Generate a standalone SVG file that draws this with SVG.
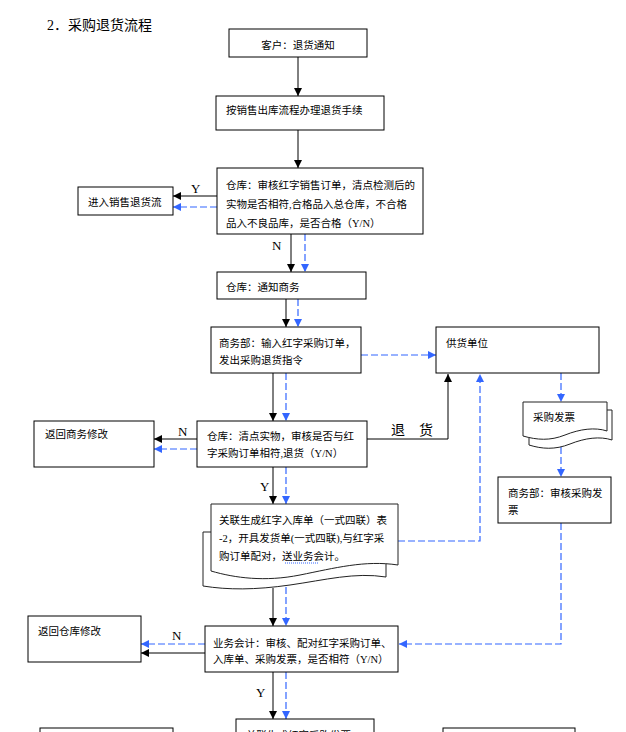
<svg xmlns="http://www.w3.org/2000/svg" width="626" height="732" viewBox="0 0 626 732">
<style>
.box{fill:#fff;stroke:#000;stroke-width:1}
.doc{fill:#fff;stroke:#222;stroke-width:1}
.t{font-family:"Liberation Serif","Noto Sans CJK SC",serif;font-size:10.5px;fill:#000}
.lbl{font-family:"Liberation Serif","Noto Sans CJK SC",serif;font-size:13px;fill:#000}
.k{fill:none;stroke:#000;stroke-width:1}
.b{fill:none;stroke:#3366ff;stroke-width:1.2;stroke-dasharray:7 3}
</style>
<defs>
<marker id="ak" markerUnits="userSpaceOnUse" markerWidth="8" markerHeight="8" refX="8" refY="4" orient="auto"><path d="M0,0 L8,4 L0,8 Z" fill="#000"/></marker>
<marker id="ab" markerUnits="userSpaceOnUse" markerWidth="8" markerHeight="8" refX="8" refY="4" orient="auto"><path d="M0,0 L8,4 L0,8 Z" fill="#3366ff"/></marker>
</defs>
<rect width="626" height="732" fill="#fff"/>
<text x="47" y="30" style="font-family:'Liberation Serif','Noto Sans CJK SC',serif;font-size:14px">2．采购退货流程</text>

<g id="connectors">
<path class="k" d="M298,57 V96" marker-end="url(#ak)"/>
<path class="k" d="M298,130 V168" marker-end="url(#ak)"/>
<path class="k" d="M217,196 H173" marker-end="url(#ak)"/>
<path class="b" d="M217,207 H173" marker-end="url(#ab)"/>
<path class="k" d="M291,234 V272" marker-end="url(#ak)"/>
<path class="b" d="M305,234 V272" marker-end="url(#ab)"/>
<path class="k" d="M286,299 V327" marker-end="url(#ak)"/>
<path class="b" d="M298,299 V327" marker-end="url(#ab)"/>
<path class="b" d="M361,355 H436" marker-end="url(#ab)"/>
<path class="k" d="M273,373 V421" marker-end="url(#ak)"/>
<path class="b" d="M286,373 V421" marker-end="url(#ab)"/>
<path class="k" d="M197,439 H154" marker-end="url(#ak)"/>
<path class="b" d="M197,449 H154" marker-end="url(#ab)"/>
<path class="k" d="M367,439 H448 V374" marker-end="url(#ak)"/>
<path class="b" d="M561,373 V402" marker-end="url(#ab)"/>
<path class="k" d="M273,467 V504" marker-end="url(#ak)"/>
<path class="b" d="M286,467 V504" marker-end="url(#ab)"/>
<path class="b" d="M398,541 H480 V374" marker-end="url(#ab)"/>
<path class="b" d="M561,447 V477" marker-end="url(#ab)"/>
<path class="k" d="M273,588 V626" marker-end="url(#ak)"/>
<path class="b" d="M286,587 V626" marker-end="url(#ab)"/>
<path class="b" d="M561,523 V644 H399" marker-end="url(#ab)"/>
<path class="b" d="M205,644 H141" marker-end="url(#ab)"/>
<path class="k" d="M205,653 H141" marker-end="url(#ak)"/>
<path class="k" d="M273,672 V719" marker-end="url(#ak)"/>
<path class="b" d="M286,672 V719" marker-end="url(#ab)"/>
</g>

<g id="labels">
<text class="lbl" x="191" y="193">Y</text>
<text class="lbl" x="272" y="250">N</text>
<text x="391" y="435" style="font-family:'Liberation Serif','Noto Sans CJK SC',serif;font-size:14px">退　货</text>
<text class="lbl" x="178" y="436">N</text>
<text class="lbl" x="260" y="491">Y</text>
<text class="lbl" x="172" y="640">N</text>
<text class="lbl" x="256" y="697">Y</text>
</g>

<g id="n1"><rect class="box" x="229" y="29" width="138" height="28"/><text class="t" x="298" y="49" text-anchor="middle">客户：退货通知</text></g>
<g id="n2"><rect class="box" x="216" y="96" width="168" height="34"/><text class="t" x="226" y="114">按销售出库流程办理退货手续</text></g>
<g id="n3"><rect class="box" x="217" y="168" width="206" height="66"/>
<text class="t" x="226" y="189">仓库：审核红字销售订单，清点检测后的</text>
<text class="t" x="226" y="208">实物是否相符,合格品入总仓库，不合格</text>
<text class="t" x="226" y="227">品入不良品库，是否合格（Y/N）</text></g>
<g id="n4"><rect class="box" x="78" y="187" width="95" height="28"/><text class="t" x="88" y="206">进入销售退货流</text></g>
<g id="n5"><rect class="box" x="217" y="272" width="149" height="27"/><text class="t" x="226" y="291">仓库：通知商务</text></g>
<g id="n6"><rect class="box" x="211" y="327" width="150" height="46"/>
<text class="t" x="219" y="347">商务部：输入红字采购订单，</text>
<text class="t" x="219" y="364">发出采购退货指令</text></g>
<g id="n7"><rect class="box" x="436" y="327" width="163" height="46"/><text class="t" x="446" y="347">供货单位</text></g>
<g id="n8"><rect class="box" x="197" y="421" width="170" height="46"/>
<text class="t" x="207" y="440">仓库：清点实物，审核是否与红</text>
<text class="t" x="207" y="457">字采购订单相符,退货（Y/N）</text></g>
<g id="n9"><rect class="box" x="34" y="421" width="120" height="46"/><text class="t" x="45" y="438">返回商务修改</text></g>
<g id="n10">
<path class="doc" d="M529,410 H612 V440 C600,436 585,438 570,444 C555,450 542,449 529,445 Z"/>
<path class="doc" d="M523,402 H607 V431 C595,427 580,429 565,435 C550,441 537,440 523,436 Z"/>
<text class="t" x="533" y="421">采购发票</text></g>
<g id="n11"><rect class="box" x="498" y="477" width="113" height="46"/>
<text class="t" x="508" y="497">商务部：审核采购发</text>
<text class="t" x="508" y="514">票</text></g>
<g id="n12">
<path class="doc" d="M203,532 H386 V577 C355,572 325,580 290,585 C255,590 228,590 203,586 Z"/>
<path class="doc" d="M211,504 H398 V565 C365,560 335,568 300,575 C265,582 235,578 211,571 Z"/>
<text class="t" x="219" y="524">关联生成红字入库单（一式四联）表</text>
<text class="t" x="219" y="542">-2，开具发货单(一式四联),与红字采</text>
<text class="t" x="219" y="560">购订单配对，送业务会计。</text>
<path d="M285,563 H318" stroke="#3366ff" stroke-width="1" stroke-dasharray="1 1"/></g>
<g id="n13"><rect class="box" x="28" y="616" width="113" height="46"/><text class="t" x="38" y="635">返回仓库修改</text></g>
<g id="n14"><rect class="box" x="205" y="626" width="193" height="46"/>
<text class="t" x="213" y="647">业务会计：审核、配对红字采购订单、</text>
<text class="t" x="213" y="663">入库单、采购发票，是否相符（Y/N）</text></g>
<g id="n15"><rect class="box" x="236" y="719" width="138" height="30"/><text class="t" x="246" y="739">关联生成红字采购发票</text></g>
<g id="n16"><rect class="box" x="40" y="728" width="133" height="30"/></g>
<g id="n17"><rect class="box" x="443" y="728" width="132" height="30"/></g>
</svg>
